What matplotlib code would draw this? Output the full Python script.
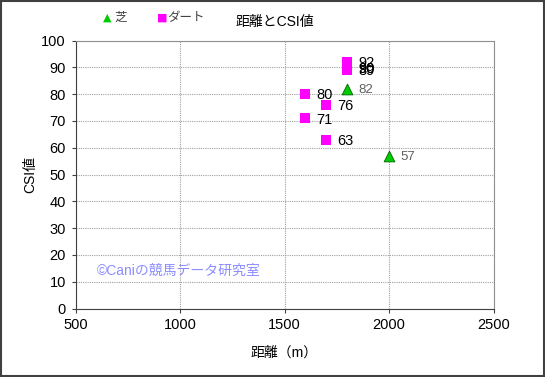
import matplotlib.pyplot as plt
from matplotlib.patches import Rectangle

plt.rcParams['font.family'] = ['Liberation Sans', 'Noto Sans CJK JP', 'DejaVu Sans']

# turf (芝)
turf_dist = [1800, 2000]
turf_csi = [82, 57]

# dirt (ダート)
dirt_dist = [1800, 1800, 1800, 1800, 1600, 1700, 1600, 1700]
dirt_csi = [92, 90, 90, 89, 80, 76, 71, 63]

x_ticks = [500, 1000, 1500, 2000, 2500]
y_ticks = list(range(0, 101, 10))

W, H = 545, 377
fig = plt.figure(figsize=(W / 100, H / 100), dpi=100)
ax = fig.add_axes([75.5 / W, 1 - 308.5 / H, (493.5 - 75.5) / W, (308.5 - 40.5) / H])

ax.scatter(dirt_dist, dirt_csi, marker='s', s=42, color='#ff00ff', zorder=3, linewidths=0)
ax.scatter(turf_dist, turf_csi, marker='^', s=60, color='#00cc00',
           edgecolors='#006600', linewidths=0.6, zorder=3)

for x, y in zip(dirt_dist, dirt_csi):
    ax.annotate(str(y), (x, y), xytext=(8, -1), textcoords='offset points',
                va='center', ha='left', fontsize=10.5, color='black')
for x, y in zip(turf_dist, turf_csi):
    ax.annotate(str(y), (x, y), xytext=(8, -1), textcoords='offset points',
                va='center', ha='left', fontsize=9.5, color='#606060')

ax.set_xlim(500, 2500)
ax.set_ylim(0, 100)
ax.set_xticks(x_ticks)
ax.set_yticks(y_ticks)
ax.tick_params(labelsize=10.5, length=3, width=0.8, color='#404040', pad=4)
ax.grid(True, linestyle=(0, (1, 1)), color='#a0a0a0', linewidth=0.8)
ax.set_axisbelow(True)
for side in ['top', 'right']:
    ax.spines[side].set_color('#909090')
for side in ['left', 'bottom']:
    ax.spines[side].set_color('#404040')

ax.set_xlabel('距離（m）', fontsize=10, labelpad=10)
ax.set_ylabel('CSI値', fontsize=10)
ax.yaxis.set_label_coords(-38 / 418, 0.5)

fig.text(275 / W, 1 - 22 / H, '距離とCSI値', ha='center', va='center', fontsize=10)

# legend
fig.text(103 / W, 1 - 18 / H, '▲', ha='left', va='center', fontsize=8, color='#00cc00',
         family=['DejaVu Sans'])
fig.text(114 / W, 1 - 18 / H, '芝', ha='left', va='center', fontsize=9, color='#404040')
fig.text(157 / W, 1 - 18 / H, '■', ha='left', va='center', fontsize=8, color='#ff00ff',
         family=['DejaVu Sans'])
fig.text(167 / W, 1 - 18 / H, 'ダート', ha='left', va='center', fontsize=9, color='#404040')

ax.text(600, 14, '©Caniの競馬データ研究室', fontsize=10, color='#8c8cff', va='center')

fig.patches.append(Rectangle((1 / W, 1 / H), (W - 2) / W, (H - 2) / H, transform=fig.transFigure,
                             fill=False, edgecolor='#404040', linewidth=1.5))

fig.savefig('out.png', dpi=100)
